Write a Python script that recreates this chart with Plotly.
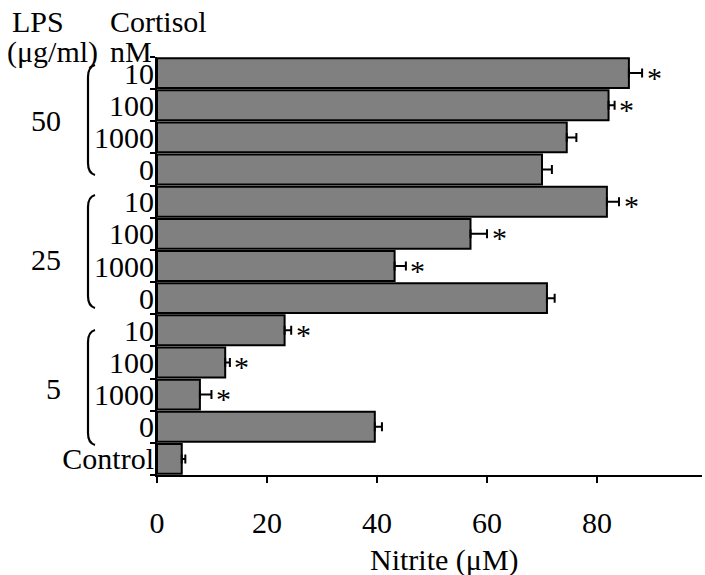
import plotly.graph_objects as go

# Nitrite production by LPS dose and cortisol concentration
lps_groups = ["50", "25", "5"]
cortisol_labels = ["10", "100", "1000", "0",
                   "10", "100", "1000", "0",
                   "10", "100", "1000", "0",
                   "Control"]
nitrite = [85.8, 82.1, 74.5, 70.0,
           81.8, 57.0, 43.2, 70.9,
           23.2, 12.4, 7.8, 39.6,
           4.5]
sem = [2.4, 1.1, 1.75, 1.8,
       2.2, 3.0, 2.05, 1.4,
       1.2, 0.85, 2.1, 1.3,
       0.65]
significant = [True, True, False, False,
               True, True, True, False,
               True, True, True, False,
               False]
x_ticks = [0, 20, 40, 60, 80]

FONT = "'Liberation Serif', 'Times New Roman', Times, serif"
FS = 30
W, H = 705, 575
ML, MR, MT, MB = 157, 3, 57, 100
PW, PH = W - ML - MR, H - MT - MB
XMAX = PW / 5.5

n = len(nitrite)
pos = list(range(n))


def px(x):
    return (x - ML) / PW


def py(y):
    return 1 - (y - MT) / PH


fig = go.Figure()
fig.add_trace(go.Bar(
    x=nitrite, y=pos, orientation="h",
    marker=dict(color="#808080", line=dict(color="black", width=2)),
    error_x=dict(type="data", symmetric=False, array=sem,
                 arrayminus=[0] * n, color="black", thickness=2, width=4.5),
    showlegend=False,
))

annotations = []
# significance marks
for i in range(n):
    if significant[i]:
        annotations.append(dict(
            x=nitrite[i] + sem[i], y=pos[i], xref="x", yref="y",
            text="*", showarrow=False, xanchor="center", yanchor="middle",
            xshift=12, yshift=-4, font=dict(family=FONT, size=FS, color="black")))

# header and group labels
def label(text, x, y, xanchor="left"):
    annotations.append(dict(
        x=px(x), y=py(y), xref="paper", yref="paper", text=text,
        showarrow=False, xanchor=xanchor, yanchor="middle",
        font=dict(family=FONT, size=FS, color="black")))


label("LPS", 10, 21)
label("(μg/ml)", 5, 52)
label("Cortisol", 108, 21)
label("nM", 108, 51)
label("Nitrite (μM)", 444, 560, xanchor="center")
for g, yc in zip(lps_groups, [120, 259, 388]):
    label(g, 63, yc, xanchor="right")

# curly brackets grouping the cortisol doses
shapes = []
for top, bot in [(65, 175), (195, 308), (330, 445)]:
    xr, xl = 95, 88
    path = (f"M {px(xr)},{py(top)} "
            f"Q {px(xl)},{py(top + 2)} {px(xl)},{py(top + 12)} "
            f"L {px(xl)},{py(bot - 12)} "
            f"Q {px(xl)},{py(bot - 2)} {px(xr)},{py(bot)}")
    shapes.append(dict(type="path", path=path, xref="paper", yref="paper",
                       line=dict(color="black", width=2.2)))

fig.update_layout(
    width=W, height=H,
    margin=dict(l=ML, r=MR, t=MT, b=MB, pad=0),
    plot_bgcolor="white", paper_bgcolor="white",
    bargap=0.07,
    font=dict(family=FONT, size=FS, color="black"),
    annotations=annotations, shapes=shapes,
    xaxis=dict(range=[0, XMAX], tickmode="array", tickvals=x_ticks,
               showline=True, linecolor="black", linewidth=2,
               ticks="outside", ticklen=6, tickwidth=2, tickcolor="black",
               ticklabelstandoff=14, showgrid=False, zeroline=False,
               tickfont=dict(family=FONT, size=FS, color="black")),
    yaxis=dict(range=[n - 0.5, -0.5], tickmode="array", tickvals=pos,
               ticktext=cortisol_labels, ticks="",
               minor=dict(tickmode="array",
                          tickvals=[i - 0.5 for i in range(n + 1)],
                          ticks="outside", ticklen=5, tickwidth=2,
                          tickcolor="black", showgrid=False),
               showline=True, linecolor="black", linewidth=2,
               showgrid=False, zeroline=False, ticklabelstandoff=-5,
               tickfont=dict(family=FONT, size=FS, color="black")),
)

fig.write_html("out.html")
